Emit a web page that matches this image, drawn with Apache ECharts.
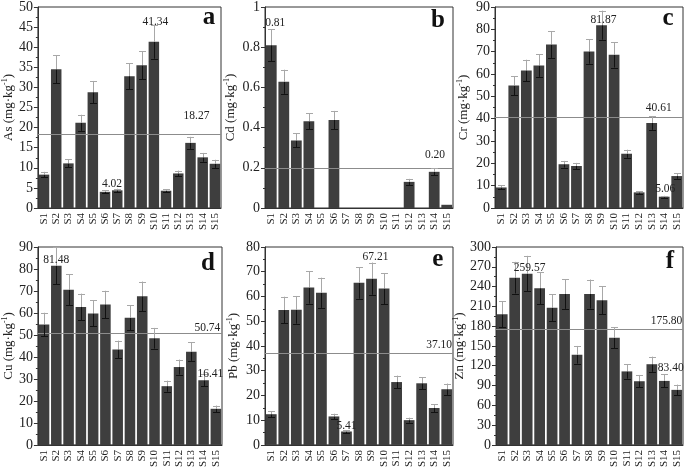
<!DOCTYPE html>
<html><head><meta charset="utf-8">
<script src="https://cdn.jsdelivr.net/npm/echarts@6/dist/echarts.min.js"></script>
<style>html,body{margin:0;padding:0;background:#fff}#c{width:685px;height:470px}</style>
</head><body><div id="c"></div>
<script>
const categories = ['S1','S2','S3','S4','S5','S6','S7','S8','S9','S10','S11','S12','S13','S14','S15'];

const asValues = [8.3, 34.5, 11.1, 21.2, 28.8, 4.02, 4.4, 32.8, 35.5, 41.34, 4.3, 8.6, 16.2, 12.6, 11.0];
const asErrors = [0.7, 3.5, 1.0, 2.0, 2.8, 0.4, 0.4, 3.2, 3.5, 4.2, 0.4, 0.7, 1.5, 1.1, 1.0];
const cdValues = [0.81, 0.628, 0.336, 0.431, 0, 0.438, 0, 0, 0, 0, 0, 0.13, 0, 0.18, 0.016];
const cdErrors = [0.08, 0.06, 0.035, 0.04, 0, 0.045, 0, 0, 0, 0, 0, 0.015, 0, 0.018, 0];
const crValues = [9.2, 54.8, 61.6, 63.8, 73.2, 19.6, 18.8, 70.1, 81.87, 68.6, 24.3, 7.0, 38.1, 5.06, 14.3];
const crErrors = [0.9, 4.3, 4.8, 5.1, 6.0, 1.5, 1.4, 5.5, 6.5, 5.7, 1.8, 0.6, 3.1, 0.4, 1.2];
const cuValues = [54.7, 81.48, 70.6, 62.7, 59.8, 63.9, 43.4, 57.8, 67.6, 48.5, 26.7, 35.4, 42.4, 29.4, 16.41];
const cuErrors = [5.4, 8.5, 7.0, 6.1, 5.9, 6.2, 4.0, 5.7, 6.7, 4.7, 2.5, 3.4, 4.2, 2.8, 1.5];
const pbValues = [12.4, 54.5, 54.6, 63.6, 61.5, 11.5, 5.41, 65.5, 67.21, 63.2, 25.4, 10.0, 24.9, 14.9, 22.5];
const pbErrors = [1.3, 5.4, 5.6, 6.5, 6.1, 1.1, 0.6, 6.4, 6.5, 6.3, 2.6, 1.0, 2.5, 1.6, 2.3];
const znValues = [198, 253.5, 259.57, 237.6, 208, 228.7, 136.6, 228.7, 219.3, 162.4, 111.4, 96.5, 122.3, 97, 83.4];
const znErrors = [20, 24, 27, 24, 20, 22.5, 13.4, 22, 21.5, 16, 11, 9.5, 11.5, 10, 8];

const elements = ['As', 'Cd', 'Cr', 'Cu', 'Pb', 'Zn'];
const meanValues = [18.27, 0.20, 40.61, 50.74, 37.10, 175.80];
const yMax = [50, 1, 90, 90, 80, 300];
const yInterval = [5, 0.2, 10, 10, 10, 30];
const panelLetters = ['a', 'b', 'c', 'd', 'e', 'f'];
const maxLabelCats = ['S10', 'S1', 'S9', 'S2', 'S9', 'S3'];
const minLabelCats = ['S6', null, 'S14', 'S15', 'S7', 'S15'];

const seriesValues = [asValues, cdValues, crValues, cuValues, pbValues, znValues];
const seriesErrors = [asErrors, cdErrors, crErrors, cuErrors, pbErrors, znErrors];

// layout / style (not data)
const FONT = "'Liberation Serif', 'Times New Roman', serif";
const grids = [
  {left: 34, top: 6, width: 187, height: 202},
  {left: 265, top: 6, width: 188, height: 202},
  {left: 495, top: 6, width: 188, height: 202},
  {left: 35, top: 247, width: 187, height: 202},
  {left: 265, top: 247, width: 188, height: 202},
  {left: 496, top: 247, width: 187, height: 202}
];
const nameGaps = [21, 28, 25, 22, 25, 29];
const maxOffsets = [[1.5, -20], [4, -22], [2, -5], [0, -6], [4, -21.6], [2.5, -6]];
const minOffsets = [[7, -8], null, [1, -8], [-5.5, -34.5], [0, -6], [-6, -21.5]];
const meanOffsets = [[-5.5, -18.5], [-1.7, -12.6], [-5, -9.2], [4.5, -5], [5.3, -8], [5.6, -7.6]];
const letterPos = [[209, 18], [438, 21], [668, 18.7], [208, 263.7], [437.7, 259.3], [670, 262]];

const BAR = '#3e3e3e';
const option = {
  animation: false,
  backgroundColor: '#fff',
  grid: [], xAxis: [], yAxis: [], series: [],
  graphic: []
};

function fmt(v) { return v.toFixed(2); }

for (let p = 0; p < 6; p++) {
  const vals = seriesValues[p], errs = seriesErrors[p];
  option.grid.push(Object.assign({show: true, borderColor: '#333', borderWidth: 1, backgroundColor: 'transparent'}, grids[p]));
  option.xAxis.push({
    type: 'category', gridIndex: p, data: categories,
    axisLine: {lineStyle: {color: '#333'}},
    axisTick: {show: false},
    axisLabel: {rotate: 90, fontFamily: FONT, fontSize: 11, color: '#222', margin: 5, interval: 0}
  });
  option.yAxis.push({
    type: 'value', gridIndex: p, min: 0, max: yMax[p], interval: yInterval[p],
    name: '{n|' + elements[p] + ' (mg·kg}{s|-1}{n|)}',
    nameLocation: 'middle', nameGap: nameGaps[p],
    nameTextStyle: {rich: {
      n: {fontFamily: FONT, fontSize: 13, color: '#222', lineHeight: 14, verticalAlign: 'bottom'},
      s: {fontFamily: FONT, fontSize: 8, color: '#222', lineHeight: 14, verticalAlign: 'top', padding: [0, 0, 5, 0]}
    }},
    axisLine: {show: true, lineStyle: {color: '#333'}},
    axisTick: {show: true, length: 4, lineStyle: {color: '#333'}},
    minorTick: {show: true, splitNumber: 2, length: 2, lineStyle: {color: '#333'}},
    splitLine: {show: false},
    axisLabel: {fontFamily: FONT, fontSize: 14, color: '#222', margin: 5}
  });

  const maxVal = Math.max.apply(null, vals);
  const mp = [{
    coord: [maxLabelCats[p], maxVal], value: fmt(maxVal),
    label: {offset: maxOffsets[p]}
  }];
  if (minLabelCats[p]) {
    const nz = vals.filter(v => v > 0);
    const minVal = Math.min.apply(null, nz);
    mp.push({coord: [minLabelCats[p], minVal], value: fmt(minVal), label: {offset: minOffsets[p]}});
  }
  mp.push({coord: ['S15', meanValues[p]], value: fmt(meanValues[p]),
    label: {offset: meanOffsets[p], align: 'right'}});

  option.series.push({
    type: 'bar', xAxisIndex: p, yAxisIndex: p, data: vals,
    barCategoryGap: '14%',
    itemStyle: {color: BAR},
    z: 2,
    markLine: {
      silent: true, symbol: 'none',
      lineStyle: {color: '#8c8c8c', width: 1, type: 'solid'},
      label: {show: false},
      data: [{yAxis: meanValues[p]}]
    },
    markPoint: {
      silent: true, symbol: 'circle', symbolSize: 1,
      itemStyle: {color: 'rgba(0,0,0,0)'},
      label: {show: true, position: 'inside', formatter: '{c}', fontFamily: FONT, fontSize: 11.5, color: '#222'},
      data: mp
    }
  });

  option.series.push({
    type: 'custom', xAxisIndex: p, yAxisIndex: p, z: 5,
    data: vals.map((v, i) => [i, v, errs[i]]),
    renderItem: function (params, api) {
      const i = api.value(0), v = api.value(1), e = api.value(2);
      if (!e) return null;
      const top = api.coord([i, v + e]);
      const mid = api.coord([i, v]);
      const bot = api.coord([i, v - e]);
      const x = Math.round(top[0]) + 0.5;
      const hw = 3.5;
      const dark = {stroke: '#111', lineWidth: 1};
      const light = {stroke: '#a8a8a8', lineWidth: 1};
      return {type: 'group', children: [
        {type: 'line', shape: {x1: x, y1: mid[1], x2: x, y2: bot[1]}, style: dark},
        {type: 'line', shape: {x1: x, y1: top[1], x2: x, y2: mid[1]}, style: light},
        {type: 'line', shape: {x1: x - hw, y1: Math.round(top[1]) + 0.5, x2: x + hw, y2: Math.round(top[1]) + 0.5}, style: light},
        {type: 'line', shape: {x1: x - hw, y1: Math.round(bot[1]) + 0.5, x2: x + hw, y2: Math.round(bot[1]) + 0.5}, style: dark}
      ]};
    }
  });

  option.graphic.push({
    type: 'text', x: letterPos[p][0], y: letterPos[p][1], z: 10,
    style: {text: panelLetters[p], font: "bold 25px 'Liberation Serif', 'Times New Roman', serif", fill: '#111', textAlign: 'center', textVerticalAlign: 'middle'}
  });
}

const chart = echarts.init(document.getElementById('c'), null, {renderer: 'canvas'});
chart.setOption(option);
</script>
</body></html>
